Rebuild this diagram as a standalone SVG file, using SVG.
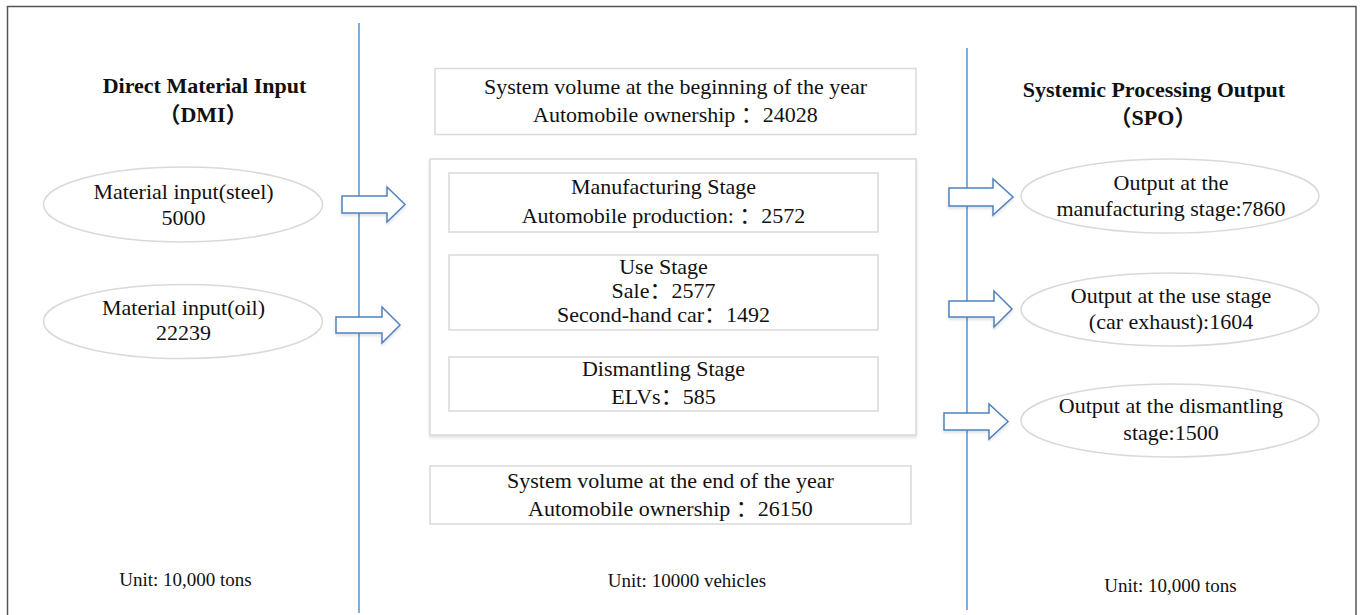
<svg xmlns="http://www.w3.org/2000/svg" width="1360" height="615" viewBox="0 0 1360 615">
<defs>
<style>
.t{font-family:"Liberation Serif","Noto Sans CJK SC",serif;font-size:22px;fill:#111;text-anchor:middle}
.b{font-weight:bold}
.u{font-size:19px}
.box{fill:#fff;stroke:#d9d9d9;stroke-width:1.5}
.ell{fill:#fff;stroke:#d9d9d9;stroke-width:1.5}
.vl{stroke:#5b9bd5;stroke-width:1.6;fill:none}
.arr{fill:#fff;stroke:#4f81bd;stroke-width:1.5;stroke-linejoin:miter}
</style>
<filter id="sh" x="-5%" y="-5%" width="110%" height="115%">
<feDropShadow dx="0" dy="2" stdDeviation="1.5" flood-color="#000" flood-opacity="0.12"/>
</filter>
</defs>
<rect x="0" y="0" width="1360" height="615" fill="#fff"/>
<rect x="7.5" y="6.5" width="1348.5" height="640" fill="none" stroke="#555" stroke-width="1.5"/>

<g id="dividers">
<line class="vl" x1="359" y1="23" x2="359" y2="613"/>
<line class="vl" x1="967" y1="48" x2="967" y2="610"/>
</g>

<g id="dmi-title">
<text class="t b" x="204.5" y="93">Direct Material Input</text>
<text class="t b" x="203" y="122">（DMI）</text>
</g>
<g id="spo-title">
<text class="t b" x="1154" y="97">Systemic Processing Output</text>
<text class="t b" x="1153" y="125">（SPO）</text>
</g>

<g id="input-steel">
<ellipse class="ell" cx="183" cy="204.5" rx="139.5" ry="37.5"/>
<text class="t" x="183.5" y="199">Material input(steel)</text>
<text class="t" x="183.5" y="225">5000</text>
</g>
<g id="input-oil">
<ellipse class="ell" cx="183" cy="321.5" rx="139.5" ry="37"/>
<text class="t" x="183.5" y="315">Material input(oil)</text>
<text class="t" x="183.5" y="340">22239</text>
</g>

<g id="sys-begin">
<rect class="box" x="435" y="68.5" width="481" height="66"/>
<text class="t" x="675.5" y="94">System volume at the beginning of the year</text>
<text class="t" x="675.5" y="122">Automobile ownership ：24028</text>
</g>

<g id="stages">
<rect class="box" x="430" y="159" width="486" height="276" stroke="#e2e2e2" filter="url(#sh)"/>
</g>
<g id="manufacturing">
<rect class="box" x="449" y="173" width="429" height="59"/>
<text class="t" x="663.5" y="194">Manufacturing Stage</text>
<text class="t" x="663.5" y="223">Automobile production: ：2572</text>
</g>
<g id="use">
<rect class="box" x="449" y="255" width="429" height="75"/>
<text class="t" x="663.5" y="274">Use Stage</text>
<text class="t" x="663.5" y="298">Sale：2577</text>
<text class="t" x="663.5" y="322">Second-hand car：1492</text>
</g>
<g id="dismantling">
<rect class="box" x="449" y="357" width="429" height="54"/>
<text class="t" x="663.5" y="376">Dismantling Stage</text>
<text class="t" x="663.5" y="404">ELVs：585</text>
</g>

<g id="sys-end">
<rect class="box" x="430" y="466" width="481" height="58"/>
<text class="t" x="670.5" y="488">System volume at the end of the year</text>
<text class="t" x="670.5" y="516">Automobile ownership ：26150</text>
</g>

<g id="out-manufacturing">
<ellipse class="ell" cx="1170" cy="196" rx="149" ry="37"/>
<text class="t" x="1171" y="190">Output at the</text>
<text class="t" x="1171" y="216">manufacturing stage:7860</text>
</g>
<g id="out-use">
<ellipse class="ell" cx="1170" cy="309.5" rx="149" ry="36.5"/>
<text class="t" x="1171" y="303">Output at the use stage</text>
<text class="t" x="1171" y="329">(car exhaust):1604</text>
</g>
<g id="out-dismantling">
<ellipse class="ell" cx="1170" cy="420.5" rx="149" ry="36.5"/>
<text class="t" x="1171" y="413">Output at the dismantling</text>
<text class="t" x="1171" y="440">stage:1500</text>
</g>

<g id="connectors">
<path class="arr" filter="url(#sh)" d="M342,196 H387 V187 L405,204.5 L387,222 V213 H342 Z"/>
<path class="arr" filter="url(#sh)" d="M336,317 H382 V307 L400,325 L382,343 V333 H336 Z"/>
<path class="arr" filter="url(#sh)" d="M949,188 H993 V179 L1013,197 L993,215 V206 H949 Z"/>
<path class="arr" filter="url(#sh)" d="M949,301 H994 V291 L1012,309 L994,327 V317 H949 Z"/>
<path class="arr" filter="url(#sh)" d="M944,413 H989 V404 L1008,421.5 L989,439 V430 H944 Z"/>
</g>

<g id="units">
<text class="t u" x="185.5" y="586">Unit: 10,000 tons</text>
<text class="t u" x="687" y="587">Unit: 10000 vehicles</text>
<text class="t u" x="1170.5" y="592">Unit: 10,000 tons</text>
</g>
</svg>
